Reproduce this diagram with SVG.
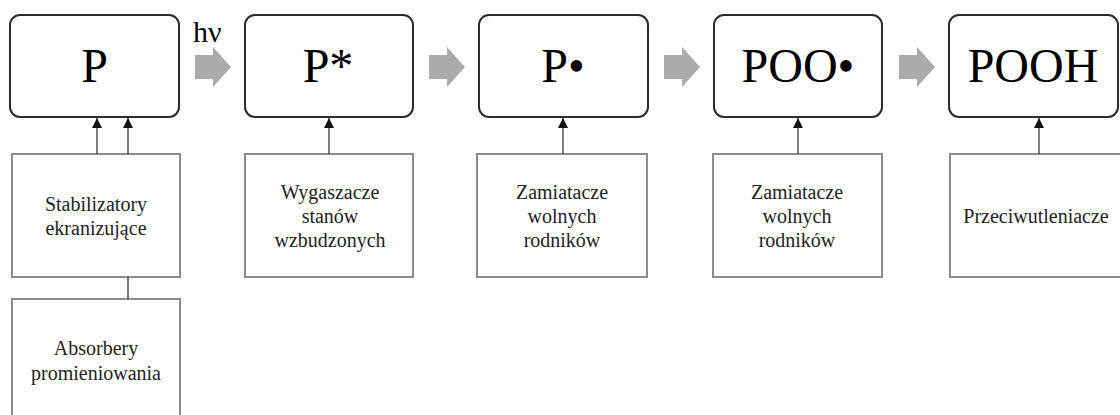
<svg xmlns="http://www.w3.org/2000/svg" width="1120" height="415" viewBox="0 0 1120 415">
<defs>
<style>
.main{fill:#fff;stroke:#2b2b2b;stroke-width:2}
.sub{fill:#fff;stroke:#8c8c8c;stroke-width:2}
.conn{stroke:#3a3a3a;stroke-width:1.3;fill:none}
.blk{fill:#ababab}
</style>
<marker id="ah" markerWidth="10" markerHeight="10" viewBox="0 0 10 10" refX="10" refY="5" orient="auto" markerUnits="userSpaceOnUse">
<path d="M0,0 L10,5 L0,10 Z" fill="#111"/>
</marker>
<path id="barrow" d="M0,-12 L18,-12 L18,-20 L36,0 L18,20 L18,12 L0,12 Z"/>
</defs>
<g id="node-P"><rect class="main" x="10" y="15" width="169" height="102" rx="10"/><text x="94.5" y="82" font-family="Liberation Serif" font-size="48" text-anchor="middle" fill="#000">P</text></g>
<g id="node-Pstar"><rect class="main" x="245" y="15" width="168" height="102" rx="10"/><text x="328" y="82" font-family="Liberation Serif" font-size="48" text-anchor="middle" fill="#000">P*</text></g>
<g id="node-Pdot"><rect class="main" x="479" y="15" width="169" height="102" rx="10"/><text x="563" y="82" font-family="Liberation Serif" font-size="48" text-anchor="middle" fill="#000">P•</text></g>
<g id="node-POOdot"><rect class="main" x="714" y="15" width="168" height="102" rx="10"/><text x="798" y="82" font-family="Liberation Serif" font-size="48" text-anchor="middle" fill="#000">POO•</text></g>
<g id="node-POOH"><rect class="main" x="949" y="15" width="169" height="102" rx="10"/><text x="1033" y="82" font-family="Liberation Serif" font-size="48" text-anchor="middle" fill="#000">POOH</text></g>

<g id="node-stab"><rect class="sub" x="12" y="154" width="168" height="123"/><text x="96" y="211" font-family="Liberation Serif" font-size="20" text-anchor="middle" fill="#222">Stabilizatory</text><text x="96" y="235" font-family="Liberation Serif" font-size="20" text-anchor="middle" fill="#222">ekranizujące</text></g>
<g id="node-abs"><rect class="sub" x="12" y="299" width="168" height="130"/><text x="96" y="355" font-family="Liberation Serif" font-size="20" text-anchor="middle" fill="#222">Absorbery</text><text x="96" y="380" font-family="Liberation Serif" font-size="20" text-anchor="middle" fill="#222">promieniowania</text></g>
<g id="node-wyg"><rect class="sub" x="245" y="154" width="168" height="123"/><text x="330" y="199" font-family="Liberation Serif" font-size="20" text-anchor="middle" fill="#222">Wygaszacze</text><text x="330" y="223" font-family="Liberation Serif" font-size="20" text-anchor="middle" fill="#222">stanów</text><text x="330" y="247" font-family="Liberation Serif" font-size="20" text-anchor="middle" fill="#222">wzbudzonych</text></g>
<g id="node-zam1"><rect class="sub" x="477" y="154" width="170" height="123"/><text x="562" y="199" font-family="Liberation Serif" font-size="20" text-anchor="middle" fill="#222">Zamiatacze</text><text x="562" y="223" font-family="Liberation Serif" font-size="20" text-anchor="middle" fill="#222">wolnych</text><text x="562" y="247" font-family="Liberation Serif" font-size="20" text-anchor="middle" fill="#222">rodników</text></g>
<g id="node-zam2"><rect class="sub" x="713" y="154" width="169" height="123"/><text x="797" y="199" font-family="Liberation Serif" font-size="20" text-anchor="middle" fill="#222">Zamiatacze</text><text x="797" y="223" font-family="Liberation Serif" font-size="20" text-anchor="middle" fill="#222">wolnych</text><text x="797" y="247" font-family="Liberation Serif" font-size="20" text-anchor="middle" fill="#222">rodników</text></g>
<g id="node-prz"><rect class="sub" x="950" y="154" width="175" height="123"/><text x="1036" y="223" font-family="Liberation Serif" font-size="20" text-anchor="middle" fill="#222">Przeciwutleniacze</text></g>

<g id="connectors">
<use href="#barrow" class="blk" x="195" y="67"/>
<use href="#barrow" class="blk" x="429" y="67"/>
<use href="#barrow" class="blk" x="664" y="67"/>
<use href="#barrow" class="blk" x="899" y="67"/>
<line class="conn" x1="97" y1="154" x2="97" y2="118" marker-end="url(#ah)"/>
<line class="conn" x1="128" y1="154" x2="128" y2="118" marker-end="url(#ah)"/>
<line class="conn" x1="128" y1="277" x2="128" y2="299"/>
<line class="conn" x1="329" y1="154" x2="329" y2="118" marker-end="url(#ah)"/>
<line class="conn" x1="563" y1="154" x2="563" y2="118" marker-end="url(#ah)"/>
<line class="conn" x1="798" y1="154" x2="798" y2="118" marker-end="url(#ah)"/>
<line class="conn" x1="1039" y1="154" x2="1039" y2="118" marker-end="url(#ah)"/>
<text x="193" y="42" font-family="Liberation Serif" font-size="30" fill="#000">hν</text>
</g>
</svg>
